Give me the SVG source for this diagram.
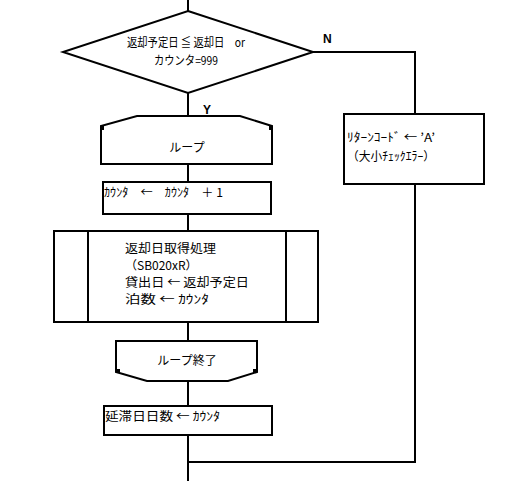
<svg xmlns="http://www.w3.org/2000/svg" width="516" height="481" viewBox="0 0 516 481">
<style>
.s{fill:#fff;stroke:#000;stroke-width:2}
.c{fill:none;stroke:#000;stroke-width:2}
.t{font-family:"Noto Sans CJK JP","Liberation Sans",sans-serif;font-size:12px;fill:#000}
.m{text-anchor:middle}
.b{font-family:"Liberation Sans",sans-serif;font-weight:bold;font-size:12px}
</style>
<rect width="516" height="481" fill="#fff"/>
<g id="connectors">
<path class="c" d="M188 0V11M188 93V116M188 164V182M188 214V231M188 322V341M188 381V406M188 435V481"/>
<path class="c" d="M313 52H415V114M415 184V462H188"/>
</g>
<g id="decision">
<polygon class="s" points="188,11 313,52 188,93 63,52"/>
<text class="t" x="127" y="47" font-size="10" textLength="118" lengthAdjust="spacingAndGlyphs">返却予定日 ≦ 返却日　or</text>
<text class="t" x="154" y="65" font-size="10" textLength="64" lengthAdjust="spacingAndGlyphs">カウンタ=999</text>
</g>
<text class="b" x="203" y="114">Y</text>
<text class="b" x="323" y="43">N</text>
<g id="loopStart">
<polygon class="s" points="137,116 240,116 272,126 272,164 101,164 101,126"/>
<rect x="100" y="126" width="4" height="4"/>
<rect x="269" y="126" width="4" height="4"/>
<text class="t m" x="187" y="152">ループ</text>
</g>
<g id="increment">
<rect class="s" x="103" y="182" width="168" height="32"/>
<text class="t" x="104" y="197" font-size="11" textLength="119" lengthAdjust="spacingAndGlyphs">ｶｳﾝﾀ　←　ｶｳﾝﾀ　＋ 1</text>
</g>
<g id="subprocess">
<rect class="s" x="54" y="231" width="264" height="91"/>
<path class="c" d="M88 231V322M286 231V322"/>
<text class="t" x="125" y="253" font-size="13" textLength="91" lengthAdjust="spacingAndGlyphs">返却日取得処理</text>
<text class="t" x="125" y="270" font-size="13">（SB020xR）</text>
<text class="t" x="125" y="287" font-size="13" textLength="124" lengthAdjust="spacingAndGlyphs">貸出日 ← 返却予定日</text>
<text class="t" x="125" y="304" font-size="13" textLength="84" lengthAdjust="spacingAndGlyphs">泊数 ← ｶｳﾝﾀ</text>
</g>
<g id="loopEnd">
<polygon class="s" points="116,341 257,341 257,372 228,381 147,381 116,372"/>
<rect x="116" y="369" width="4" height="4"/>
<rect x="253" y="369" width="4" height="4"/>
<text class="t m" x="187" y="365" font-size="13">ループ終了</text>
</g>
<g id="overdue">
<rect class="s" x="104" y="406" width="168" height="29"/>
<text class="t" x="105" y="421" font-size="13" textLength="115" lengthAdjust="spacingAndGlyphs">延滞日日数 ← ｶｳﾝﾀ</text>
</g>
<g id="returnCode">
<rect class="s" x="344" y="114" width="140" height="70"/>
<text class="t" x="347" y="142" font-size="11" textLength="88" lengthAdjust="spacingAndGlyphs">ﾘﾀｰﾝｺｰﾄﾞ ← ’A’</text>
<text class="t" x="347" y="161" font-size="11" textLength="88" lengthAdjust="spacingAndGlyphs">（大小ﾁｪｯｸｴﾗｰ）</text>
</g>
</svg>
